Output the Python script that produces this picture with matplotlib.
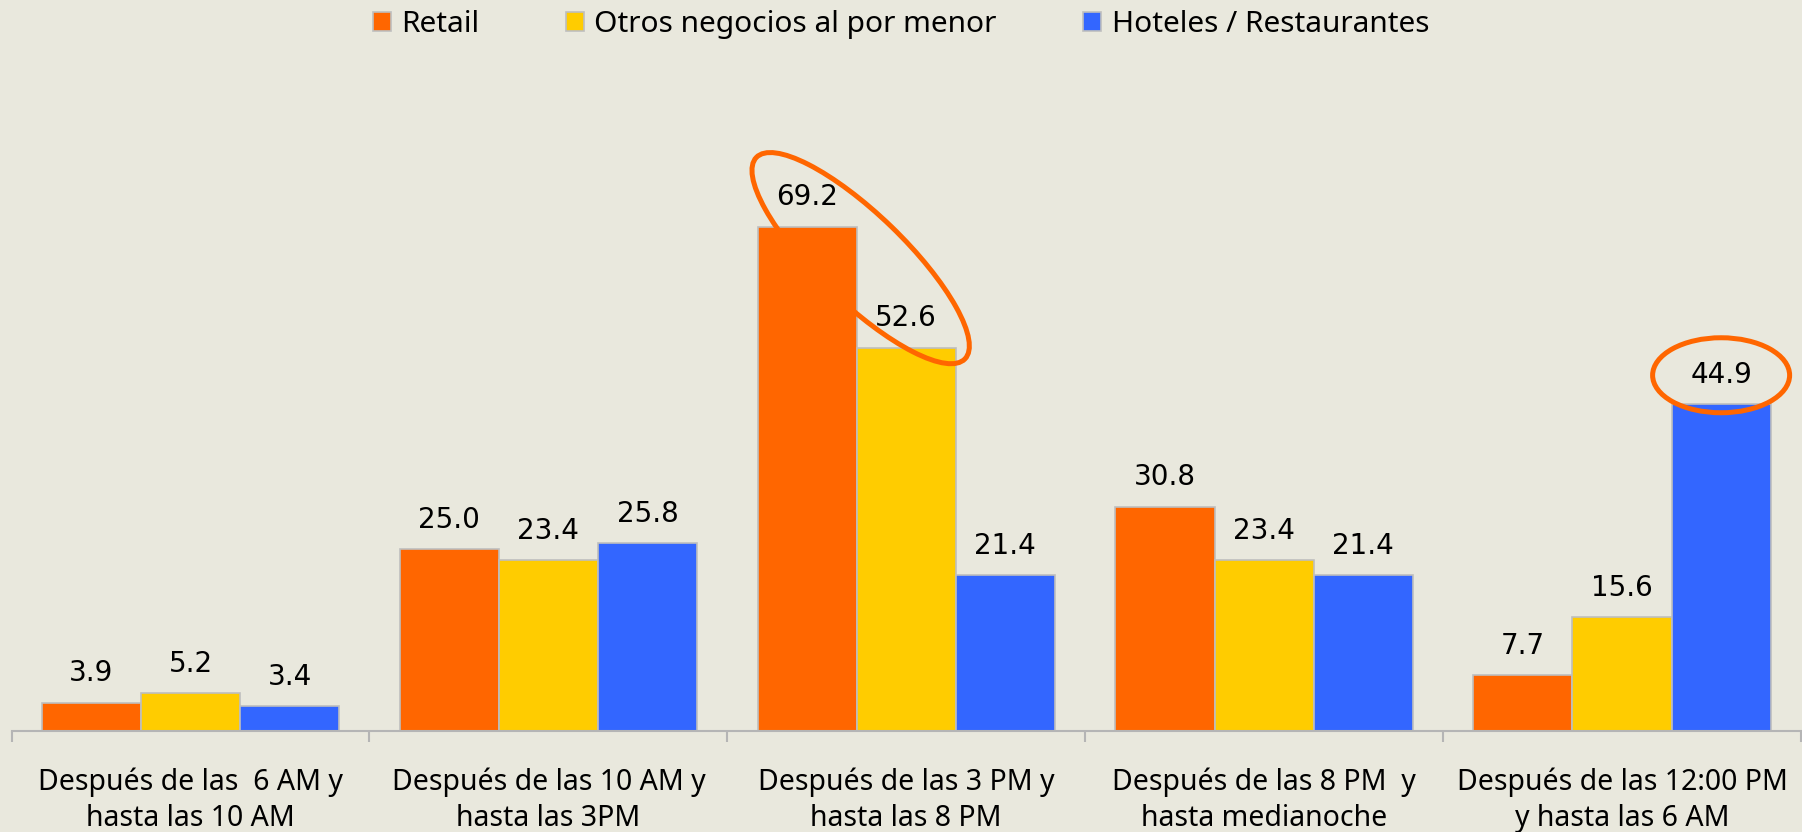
import numpy as np
import matplotlib
matplotlib.use('Agg')
import matplotlib.pyplot as plt
from matplotlib.patches import Ellipse
from matplotlib import transforms

# datos
categorias = ['Después de las  6 AM y\nhasta las 10 AM',
              'Después de las 10 AM y\nhasta las 3PM',
              'Después de las 3 PM y\nhasta las 8 PM',
              'Después de las 8 PM  y\nhasta medianoche',
              'Después de las 12:00 PM\ny hasta las 6 AM']
series = ['Retail', 'Otros negocios al por menor', 'Hoteles / Restaurantes']
retail = [3.9, 25.0, 69.2, 30.8, 7.7]
otros = [5.2, 23.4, 52.6, 23.4, 15.6]
hoteles = [3.4, 25.8, 21.4, 21.4, 44.9]
colores = ['#FF6600', '#FFCC00', '#3366FF']

fondo = '#E9E8DD'
fuente = ['Noto Sans', 'DejaVu Sans']

fig = plt.figure(figsize=(18.02, 8.32), dpi=100, facecolor=fondo)
ax = fig.add_axes([0.0064, 0.1214, 0.993, 0.876])
ax.set_facecolor(fondo)

x = np.arange(len(categorias))
w = 0.277
barras = []
for k, (vals, nombre) in enumerate(zip([retail, otros, hoteles], series)):
    b = ax.bar(x + (k - 1) * w, vals, w, color=colores[k], edgecolor='#BEBEBE',
               linewidth=1.2, label=nombre)
    barras.append(b)
    for xi, v in zip(x + (k - 1) * w, vals):
        ax.annotate(f'{v:.1f}', (xi, v), xytext=(0, 21), textcoords='offset points',
                    ha='center', va='center', fontsize=20, color='black',
                    family='DejaVu Sans')

ax.set_xlim(-0.5, len(categorias) - 0.5)
ax.set_ylim(0, 100)
for s in ['top', 'right', 'left']:
    ax.spines[s].set_visible(False)
ax.spines['bottom'].set_color('#B5B5B5')
ax.spines['bottom'].set_linewidth(1.5)
ax.set_yticks([])

# etiquetas centradas, marcas en los limites
ax.set_xticks(x)
ax.set_xticklabels(categorias, fontsize=20.5, family=fuente, linespacing=1.33)
ax.tick_params(axis='x', which='major', length=0, pad=26)
ax.set_xticks(np.arange(-0.5, len(categorias)), minor=True)
ax.tick_params(axis='x', which='minor', length=8, width=1.5, color='#B5B5B5')

# elipses de resaltado
naranja = '#FF6600'
t1 = fig.dpi_scale_trans + transforms.ScaledTranslation(2 - w / 2, (retail[2] + otros[2]) / 2, ax.transData)
ax.add_patch(Ellipse((0.04, 0.29), 2.9, 0.88, angle=-44, transform=t1, fill=False,
                     edgecolor=naranja, linewidth=3.6, clip_on=False))
t2 = fig.dpi_scale_trans + transforms.ScaledTranslation(4 + w, hoteles[4], ax.transData)
ax.add_patch(Ellipse((0, 0.285), 1.37, 0.75, transform=t2, fill=False,
                     edgecolor=naranja, linewidth=3.6, clip_on=False))

leg = fig.legend(handles=barras, loc='upper center', bbox_to_anchor=(0.5, 1.02), ncol=3,
                 frameon=False, prop={'family': fuente, 'size': 21.5},
                 handlelength=0.6, handleheight=0.6, handletextpad=0.35, columnspacing=2.9)

fig.savefig('out.png', dpi=100, facecolor=fondo)
